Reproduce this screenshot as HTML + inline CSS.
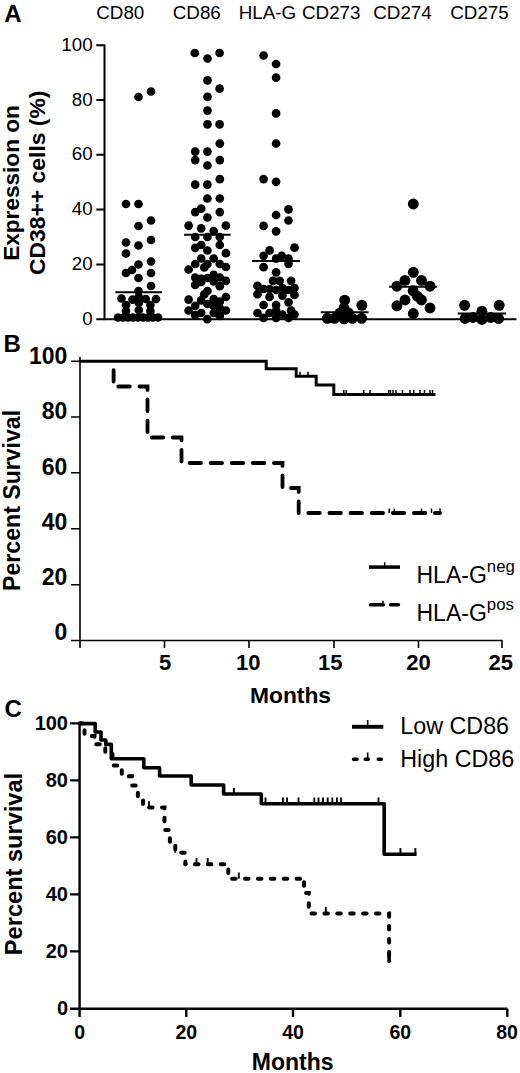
<!DOCTYPE html>
<html><head><meta charset="utf-8"><style>
html,body{margin:0;padding:0;background:#fff;}
svg{display:block;}
text{font-family:"Liberation Sans",sans-serif;}
</style></head><body>
<svg width="520" height="1073" viewBox="0 0 520 1073">
<rect width="520" height="1073" fill="#fff"/>

<g font-family="Liberation Sans" font-size="18.8" fill="#000">
 <text x="96.3" y="18.6">CD80</text>
 <text x="172.8" y="18.6">CD86</text>
 <text x="238.8" y="18.6">HLA-G</text>
 <text x="302" y="18.6">CD273</text>
 <text x="373.3" y="18.6">CD274</text>
 <text x="450.3" y="18.6">CD275</text>
</g>
<text x="4.3" y="22" font-family="Liberation Sans" font-weight="bold" font-size="24">A</text>
<g font-family="Liberation Sans" font-size="18.8" text-anchor="end">
 <text x="92.7" y="51.2">100</text><text x="92.7" y="105.6">80</text><text x="92.7" y="160">60</text>
 <text x="92.7" y="214.9">40</text><text x="92.7" y="269.9">20</text><text x="92.7" y="324.9">0</text>
</g>
<g font-family="Liberation Sans" font-weight="bold" font-size="22.6" text-anchor="middle">
 <text transform="translate(18.8,183) rotate(-90)">Expression on</text>
 <text transform="translate(45.2,182.8) rotate(-90)" font-size="22.9">CD38++ cells (%)</text>
</g>
<g stroke="#000" stroke-width="2" fill="none">
 <path d="M104.5,44.5 V319.2 H516.5"/>
 <path d="M96.3,45.3 H104.5 M96.3,100.1 H104.5 M96.3,154.8 H104.5 M96.3,209.6 H104.5 M96.3,264.4 H104.5 M96.3,319.2 H104.5"/>
 <path d="M115.4,292.2 H161.9 M184.1,234.7 H230.6 M252.1,260.9 H299.9 M320.8,312.3 H368.5 M389.2,286.7 H437 M457.7,313.5 H506.2"/>
</g>
<g fill="#000"><circle cx="138.5" cy="97" r="4.35"/><circle cx="151" cy="91.5" r="4.35"/><circle cx="126" cy="204" r="4.35"/><circle cx="138.5" cy="204" r="4.35"/><circle cx="151" cy="220.5" r="4.35"/><circle cx="138.5" cy="226" r="4.35"/><circle cx="151" cy="240" r="4.35"/><circle cx="126" cy="242.5" r="4.35"/><circle cx="138.5" cy="245.5" r="4.35"/><circle cx="126" cy="253.5" r="4.35"/><circle cx="138.5" cy="264.5" r="4.35"/><circle cx="151" cy="261.5" r="4.35"/><circle cx="132" cy="270" r="4.35"/><circle cx="126" cy="273" r="4.35"/><circle cx="151" cy="273" r="4.35"/><circle cx="138.5" cy="278" r="4.35"/><circle cx="151" cy="286" r="4.35"/><circle cx="138.5" cy="291" r="4.35"/><circle cx="121.5" cy="298.5" r="4.35"/><circle cx="132.5" cy="299.6" r="4.35"/><circle cx="145.8" cy="299" r="4.35"/><circle cx="156" cy="299" r="4.35"/><circle cx="138.8" cy="297" r="4.35"/><circle cx="126" cy="305" r="4.35"/><circle cx="126" cy="311" r="4.35"/><circle cx="138.8" cy="303" r="4.35"/><circle cx="138.8" cy="310" r="4.35"/><circle cx="150.4" cy="305" r="4.35"/><circle cx="150.4" cy="311" r="4.35"/><circle cx="118" cy="317.5" r="4.35"/><circle cx="123" cy="317.5" r="4.35"/><circle cx="128" cy="317.5" r="4.35"/><circle cx="133" cy="317.5" r="4.35"/><circle cx="138" cy="317.5" r="4.35"/><circle cx="143" cy="317.5" r="4.35"/><circle cx="148" cy="317.5" r="4.35"/><circle cx="153" cy="317.5" r="4.35"/><circle cx="158" cy="317.5" r="4.35"/><circle cx="194.8" cy="53" r="4.35"/><circle cx="207.5" cy="58.5" r="4.35"/><circle cx="219.6" cy="53" r="4.35"/><circle cx="207.5" cy="80.4" r="4.35"/><circle cx="219.6" cy="88.7" r="4.35"/><circle cx="207.5" cy="96.8" r="4.35"/><circle cx="207.5" cy="110.6" r="4.35"/><circle cx="207.5" cy="124.3" r="4.35"/><circle cx="219.6" cy="124.3" r="4.35"/><circle cx="219.8" cy="143.6" r="4.35"/><circle cx="195.2" cy="151.6" r="4.35"/><circle cx="207.4" cy="151.6" r="4.35"/><circle cx="195.2" cy="160.1" r="4.35"/><circle cx="219.8" cy="160.1" r="4.35"/><circle cx="207.4" cy="165.5" r="4.35"/><circle cx="219.8" cy="179.2" r="4.35"/><circle cx="195.2" cy="184.6" r="4.35"/><circle cx="207.4" cy="184.6" r="4.35"/><circle cx="207.4" cy="198.5" r="4.35"/><circle cx="219.8" cy="198.5" r="4.35"/><circle cx="195.2" cy="212.1" r="4.35"/><circle cx="201.2" cy="208.7" r="4.35"/><circle cx="219.8" cy="212.1" r="4.35"/><circle cx="207.4" cy="217.5" r="4.35"/><circle cx="188.6" cy="225.6" r="4.35"/><circle cx="201.2" cy="228.3" r="4.35"/><circle cx="225.9" cy="225.6" r="4.35"/><circle cx="213.7" cy="231" r="4.35"/><circle cx="195.2" cy="237" r="4.35"/><circle cx="207.4" cy="237" r="4.35"/><circle cx="219.8" cy="237" r="4.35"/><circle cx="195.2" cy="247.8" r="4.35"/><circle cx="201.2" cy="245" r="4.35"/><circle cx="207.4" cy="250.5" r="4.35"/><circle cx="219.8" cy="245" r="4.35"/><circle cx="225.9" cy="253.2" r="4.35"/><circle cx="201.2" cy="258.5" r="4.35"/><circle cx="213.7" cy="258.5" r="4.35"/><circle cx="195.2" cy="264" r="4.35"/><circle cx="207.4" cy="264" r="4.35"/><circle cx="188.6" cy="269.5" r="4.35"/><circle cx="219.8" cy="264" r="4.35"/><circle cx="225.9" cy="267" r="4.35"/><circle cx="204.3" cy="267.4" r="4.35"/><circle cx="195.2" cy="277.5" r="4.35"/><circle cx="201.2" cy="278.8" r="4.35"/><circle cx="207.4" cy="278" r="4.35"/><circle cx="213.7" cy="274.8" r="4.35"/><circle cx="213.7" cy="281.5" r="4.35"/><circle cx="219.8" cy="277.5" r="4.35"/><circle cx="219.8" cy="286.2" r="4.35"/><circle cx="225.9" cy="280.9" r="4.35"/><circle cx="195.2" cy="284.9" r="4.35"/><circle cx="201.2" cy="282" r="4.35"/><circle cx="207.4" cy="291" r="4.35"/><circle cx="204.3" cy="294.3" r="4.35"/><circle cx="188.6" cy="299.7" r="4.35"/><circle cx="225.9" cy="297" r="4.35"/><circle cx="201.2" cy="300.4" r="4.35"/><circle cx="213.7" cy="299" r="4.35"/><circle cx="219.8" cy="301.7" r="4.35"/><circle cx="195.2" cy="305.8" r="4.35"/><circle cx="207.4" cy="304" r="4.35"/><circle cx="188.6" cy="310.5" r="4.35"/><circle cx="225.9" cy="310.5" r="4.35"/><circle cx="195.2" cy="315.2" r="4.35"/><circle cx="207.4" cy="319.2" r="4.35"/><circle cx="219.8" cy="315.9" r="4.35"/><circle cx="201.2" cy="313" r="4.35"/><circle cx="213.7" cy="313" r="4.35"/><circle cx="213.7" cy="306" r="4.35"/><circle cx="219.8" cy="308" r="4.35"/><circle cx="263.6" cy="55.5" r="4.35"/><circle cx="276.1" cy="64" r="4.35"/><circle cx="276.1" cy="77.7" r="4.35"/><circle cx="276.1" cy="113.4" r="4.35"/><circle cx="276.1" cy="143.5" r="4.35"/><circle cx="263.6" cy="179.1" r="4.35"/><circle cx="276.1" cy="181.8" r="4.35"/><circle cx="288.5" cy="209.4" r="4.35"/><circle cx="276.1" cy="215" r="4.35"/><circle cx="288.5" cy="220.5" r="4.35"/><circle cx="263.6" cy="225.9" r="4.35"/><circle cx="276.1" cy="231.3" r="4.35"/><circle cx="294.5" cy="247.7" r="4.35"/><circle cx="269.6" cy="250.4" r="4.35"/><circle cx="263.6" cy="255.8" r="4.35"/><circle cx="276.1" cy="258.7" r="4.35"/><circle cx="281.7" cy="255.8" r="4.35"/><circle cx="288.5" cy="258.5" r="4.35"/><circle cx="263.6" cy="267.2" r="4.35"/><circle cx="288.5" cy="263.8" r="4.35"/><circle cx="276.1" cy="272.3" r="4.35"/><circle cx="273" cy="280.8" r="4.35"/><circle cx="279.7" cy="280.8" r="4.35"/><circle cx="291.1" cy="280.8" r="4.35"/><circle cx="257.5" cy="285.9" r="4.35"/><circle cx="263.6" cy="289" r="4.35"/><circle cx="269.6" cy="289" r="4.35"/><circle cx="276.1" cy="290" r="4.35"/><circle cx="282.4" cy="288" r="4.35"/><circle cx="288.5" cy="290" r="4.35"/><circle cx="294.5" cy="288" r="4.35"/><circle cx="257.5" cy="294.2" r="4.35"/><circle cx="269.6" cy="296.9" r="4.35"/><circle cx="282.4" cy="295.6" r="4.35"/><circle cx="294.5" cy="295" r="4.35"/><circle cx="263.6" cy="305" r="4.35"/><circle cx="276.1" cy="305" r="4.35"/><circle cx="288.5" cy="302.3" r="4.35"/><circle cx="257.5" cy="313" r="4.35"/><circle cx="269.6" cy="313" r="4.35"/><circle cx="276.1" cy="310.5" r="4.35"/><circle cx="282.4" cy="314.5" r="4.35"/><circle cx="291.1" cy="310.5" r="4.35"/><circle cx="294.5" cy="314.5" r="4.35"/><circle cx="263.6" cy="317.8" r="4.35"/><circle cx="276.1" cy="318" r="4.35"/><circle cx="288.5" cy="317.8" r="4.35"/><circle cx="344.7" cy="300.1" r="5.45"/><circle cx="361.8" cy="305.3" r="5.45"/><circle cx="344" cy="308.2" r="5.45"/><circle cx="340" cy="313" r="5.45"/><circle cx="348.5" cy="313" r="5.45"/><circle cx="327.3" cy="318.3" r="5.45"/><circle cx="334.6" cy="318.3" r="5.45"/><circle cx="344" cy="318.8" r="5.45"/><circle cx="352.3" cy="318.3" r="5.45"/><circle cx="361.6" cy="318.3" r="5.45"/><circle cx="413.3" cy="272.3" r="5.45"/><circle cx="405" cy="280.4" r="5.45"/><circle cx="421.5" cy="280.4" r="5.45"/><circle cx="396.9" cy="286.2" r="5.45"/><circle cx="430" cy="286.2" r="5.45"/><circle cx="413.1" cy="290.8" r="5.45"/><circle cx="417.3" cy="296.2" r="5.45"/><circle cx="421.5" cy="300" r="5.45"/><circle cx="405" cy="300" r="5.45"/><circle cx="396.9" cy="305.8" r="5.45"/><circle cx="430" cy="308" r="5.45"/><circle cx="413.3" cy="313.5" r="5.45"/><circle cx="413.3" cy="204" r="5.45"/><circle cx="464.6" cy="305.3" r="5.45"/><circle cx="499.2" cy="305.3" r="5.45"/><circle cx="481.9" cy="311.2" r="5.45"/><circle cx="465.1" cy="318.5" r="5.45"/><circle cx="473" cy="317.5" r="5.45"/><circle cx="481.9" cy="319.5" r="5.45"/><circle cx="490.8" cy="317.5" r="5.45"/><circle cx="498.6" cy="318.5" r="5.45"/></g>


<text x="3.5" y="352" font-family="Liberation Sans" font-weight="bold" font-size="24">B</text>
<g font-family="Liberation Sans" font-weight="bold" font-size="23" text-anchor="end">
 <text x="67.3" y="363.6">100</text><text x="67.3" y="419">80</text><text x="67.3" y="474.8">60</text>
 <text x="67.3" y="529.6">40</text><text x="67.3" y="585">20</text><text x="67.3" y="640.4">0</text>
</g>
<text transform="translate(20,500.4) rotate(-90)" font-family="Liberation Sans" font-weight="bold" font-size="23.1" text-anchor="middle">Percent Survival</text>
<g font-family="Liberation Sans" font-weight="bold" font-size="22" text-anchor="middle">
 <text x="165.2" y="669.6">5</text><text x="248.3" y="669.6">10</text><text x="330.3" y="669.6">15</text>
 <text x="418.5" y="669.6">20</text><text x="500.7" y="669.6">25</text>
</g>
<text x="290.5" y="702.5" font-family="Liberation Sans" font-weight="bold" font-size="22.8" text-anchor="middle">Months</text>
<g stroke="#000" stroke-width="1.6" fill="none">
 <path d="M80,357 V648 M71,640.5 H502.5"/>
 <path d="M71,361.2 H80 M71,417 H80 M71,472.8 H80 M71,528.8 H80 M71,584.8 H80"/>
 <path d="M164.5,640.5 V648 M249,640.5 V648 M334,640.5 V648 M418.5,640.5 V648 M502,640.5 V648"/>
</g>
<g stroke="#000" fill="none" stroke-width="3.8" stroke-linecap="round" stroke-dasharray="11.5 9.6" stroke-dashoffset="12.2">
 <path d="M113.6,361.2 V386.5 H147.5 V437.5 H181.5 V463 H282.5 V488 H298.7 V513 H440"/>
</g>
<g stroke="#000" fill="none" stroke-width="3">
 <path d="M79.5,361.2 H266.2 V368.8 H296.2 V376.2 H316.2 V385 H333.8 V394.5 H435.5" stroke-linejoin="miter"/>
</g>
<g stroke="#000" fill="none">
 <line x1="300" y1="376.2" x2="300" y2="371.7" stroke-width="1.5"/><line x1="308" y1="376.2" x2="308" y2="371.7" stroke-width="1.5"/>
 <line x1="343.8" y1="394.5" x2="343.8" y2="390.0" stroke-width="1.5"/><line x1="346.2" y1="394.5" x2="346.2" y2="390.0" stroke-width="1.5"/><line x1="363.8" y1="394.5" x2="363.8" y2="390.0" stroke-width="1.5"/><line x1="370" y1="394.5" x2="370" y2="390.0" stroke-width="1.5"/><line x1="388.8" y1="394.5" x2="388.8" y2="390.0" stroke-width="1.5"/><line x1="390.5" y1="394.5" x2="390.5" y2="390.0" stroke-width="1.5"/><line x1="393" y1="394.5" x2="393" y2="390.0" stroke-width="1.5"/><line x1="396" y1="394.5" x2="396" y2="390.0" stroke-width="1.5"/><line x1="402.5" y1="394.5" x2="402.5" y2="390.0" stroke-width="1.5"/><line x1="410" y1="394.5" x2="410" y2="390.0" stroke-width="1.5"/><line x1="413.8" y1="394.5" x2="413.8" y2="390.0" stroke-width="1.5"/><line x1="420" y1="394.5" x2="420" y2="390.0" stroke-width="1.5"/><line x1="424.5" y1="394.5" x2="424.5" y2="390.0" stroke-width="1.5"/><line x1="430" y1="394.5" x2="430" y2="390.0" stroke-width="1.5"/><line x1="432.5" y1="394.5" x2="432.5" y2="390.0" stroke-width="1.5"/>
 <line x1="389.2" y1="513" x2="389.2" y2="508.5" stroke-width="1.5"/><line x1="394.3" y1="513" x2="394.3" y2="508.5" stroke-width="1.5"/><line x1="421.5" y1="513" x2="421.5" y2="508.5" stroke-width="1.5"/><line x1="431.5" y1="513" x2="431.5" y2="508.5" stroke-width="1.5"/><line x1="440" y1="513" x2="440" y2="508.5" stroke-width="1.5"/>
</g>
<g stroke="#000" fill="none">
 <path d="M369,567.1 H400" stroke-width="3.5"/>
 <line x1="384.7" y1="567" x2="384.7" y2="562.3" stroke-width="1.5"/>
 <path d="M370.5,604.7 H383.4 M390.5,604.7 H398.5" stroke-width="3.4" stroke-linecap="round"/>
 <line x1="383" y1="604.7" x2="383" y2="600.8" stroke-width="1.5"/>
</g>
<g font-family="Liberation Sans" font-size="23">
 <text x="416.5" y="583">HLA-G<tspan font-size="16.8" dy="-11">neg</tspan></text>
 <text x="416.5" y="620.7">HLA-G<tspan font-size="16.8" dy="-11">pos</tspan></text>
</g>


<text x="4.5" y="717.3" font-family="Liberation Sans" font-weight="bold" font-size="24">C</text>
<g font-family="Liberation Sans" font-weight="bold" font-size="20" text-anchor="end">
 <text x="68" y="730">100</text><text x="68" y="787">80</text><text x="68" y="844">60</text>
 <text x="68" y="901">40</text><text x="68" y="958">20</text><text x="68" y="1015">0</text>
</g>
<text transform="translate(22,864) rotate(-90)" font-family="Liberation Sans" font-weight="bold" font-size="23.6" text-anchor="middle">Percent survival</text>
<g font-family="Liberation Sans" font-weight="bold" font-size="19.5" text-anchor="middle">
 <text x="79.6" y="1038.5">0</text><text x="186.3" y="1038.5">20</text><text x="293" y="1038.5">40</text>
 <text x="400.3" y="1038.5">60</text><text x="507" y="1038.5">80</text>
</g>
<text x="292.7" y="1069.5" font-family="Liberation Sans" font-weight="bold" font-size="23" text-anchor="middle">Months</text>
<g stroke="#000" stroke-width="2.4" fill="none">
 <path d="M79.6,722 V1017 M70,1008.75 H507.5"/>
 <path d="M70,723.4 H80 M70,780.4 H80 M70,837.4 H80 M70,894.4 H80 M70,951.4 H80"/>
 <path d="M186.3,1008.75 V1017 M293,1008.75 V1017 M400.3,1008.75 V1017 M507.3,1008.75 V1017"/>
</g>
<g stroke="#000" fill="none" stroke-width="4" stroke-linecap="round" stroke-dasharray="3.5 9.4">
 <path stroke-dashoffset="1.4" d="M80,723.3 H84.5 V736 H94.5 V744.3 H105.3 V752 H112.5 V765.4"/>
 <path stroke-dashoffset="-1.2" d="M112.5,765.4 H121.8 V776.2 H132 V785.6 H137.9 V798.5 H143 V807.4 H164.5 V830 H169.9 V842.5 H175.3 V852.7 H185.4 V864.2"/>
 <path stroke-dashoffset="3.3" d="M185.4,864.2 H228.3 V878.7 H304"/>
 <path stroke-dashoffset="9.4" d="M304,878.7 V893 H308.8 V913.4 H389.1 V961.3"/>
 <path stroke-dasharray="none" stroke-width="3.6" d="M389.1,953 V961.5"/>
</g>
<g stroke="#000" fill="none" stroke-width="3.6" stroke-linejoin="round">
 <path d="M79.5,723.6 H95.2 V732 H101 V740 H105.8 V744.4 H111.3 V758.8 H143.8 V767.7 H159.6 V776 H191.2 V785 H223.6 V794 H261.3 V803.7 H384.2 V854.3 H416.5"/>
</g>
<g stroke="#000" fill="none">
 <line x1="233.9" y1="794" x2="233.9" y2="787.8" stroke-width="1.9"/>
 <line x1="265.5" y1="803.7" x2="265.5" y2="797.5" stroke-width="1.9"/><line x1="283" y1="803.7" x2="283" y2="797.5" stroke-width="1.9"/><line x1="287" y1="803.7" x2="287" y2="797.5" stroke-width="1.9"/><line x1="298.5" y1="803.7" x2="298.5" y2="797.5" stroke-width="1.9"/><line x1="314.3" y1="803.7" x2="314.3" y2="797.5" stroke-width="1.9"/><line x1="318.5" y1="803.7" x2="318.5" y2="797.5" stroke-width="1.9"/><line x1="323" y1="803.7" x2="323" y2="797.5" stroke-width="1.9"/><line x1="327.7" y1="803.7" x2="327.7" y2="797.5" stroke-width="1.9"/><line x1="332.3" y1="803.7" x2="332.3" y2="797.5" stroke-width="1.9"/><line x1="336.9" y1="803.7" x2="336.9" y2="797.5" stroke-width="1.9"/><line x1="341" y1="803.7" x2="341" y2="797.5" stroke-width="1.9"/><line x1="378.5" y1="803.7" x2="378.5" y2="797.5" stroke-width="1.9"/>
 <line x1="400.4" y1="854.3" x2="400.4" y2="848.0999999999999" stroke-width="1.9"/><line x1="415.4" y1="854.3" x2="415.4" y2="848.0999999999999" stroke-width="1.9"/>
 <line x1="149" y1="807.4" x2="149" y2="801.1999999999999" stroke-width="1.9"/><line x1="175.3" y1="852.7" x2="175.3" y2="846.5" stroke-width="1.9"/><line x1="196.5" y1="864.2" x2="196.5" y2="858.0" stroke-width="1.9"/><line x1="207.7" y1="864.2" x2="207.7" y2="858.0" stroke-width="1.9"/><line x1="238.8" y1="878.7" x2="238.8" y2="872.5" stroke-width="1.9"/><line x1="325.8" y1="913" x2="325.8" y2="906.8" stroke-width="1.9"/>
</g>
<g stroke="#000" fill="none">
 <path d="M352,726.8 H383.3" stroke-width="3.9"/>
 <line x1="367.7" y1="727" x2="367.7" y2="720" stroke-width="1.6"/>
 <path d="M353.6,759.3 H357.1 M365.3,759.3 H368.3 M378.3,759.3 H381.3" stroke-width="3.6" stroke-linecap="round"/>
 <line x1="367.7" y1="759.3" x2="367.7" y2="752.4" stroke-width="1.6"/>
</g>
<g font-family="Liberation Sans" font-size="23.3">
 <text x="400.3" y="734">Low CD86</text>
 <text x="400.3" y="766.5">High CD86</text>
</g>

</svg>
</body></html>
